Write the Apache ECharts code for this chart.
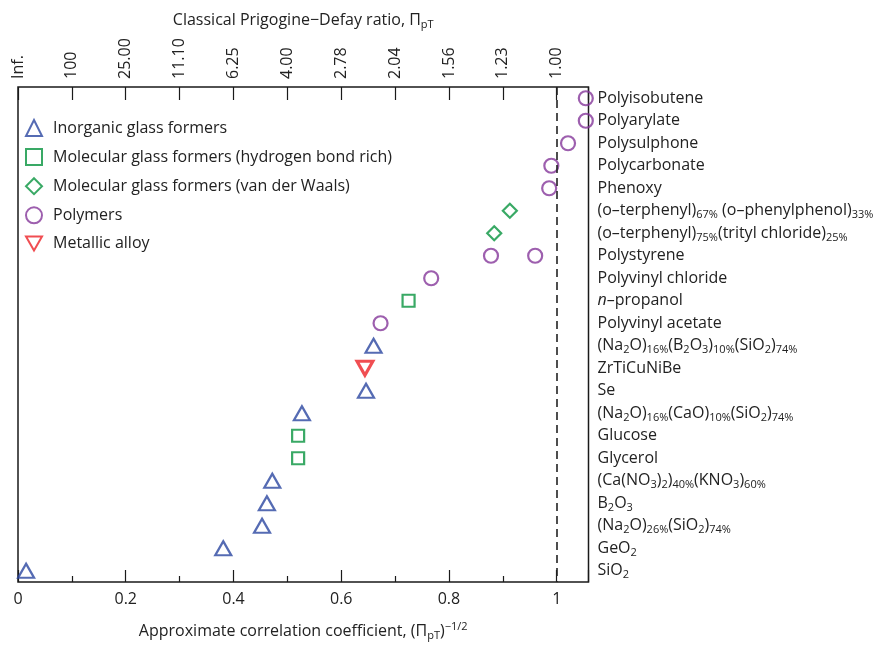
<!DOCTYPE html>
<html><head><meta charset="utf-8">
<script src="https://cdn.jsdelivr.net/npm/echarts@6/dist/echarts.min.js"></script>
<style>html,body{margin:0;padding:0;background:#fff}#c{width:895px;height:646px}</style>
</head><body><div id="c"></div>
<script>
const categories = [
  'Polyisobutene',
  'Polyarylate',
  'Polysulphone',
  'Polycarbonate',
  'Phenoxy',
  '(o–terphenyl){s|67%} (o–phenylphenol){s|33%}',
  '(o–terphenyl){s|75%}(trityl chloride){s|25%}',
  'Polystyrene',
  'Polyvinyl chloride',
  '{i|n}–propanol',
  'Polyvinyl acetate',
  '(Na{s|2}O){s|16%}(B{s|2}O{s|3}){s|10%}(SiO{s|2}){s|74%}',
  'ZrTiCuNiBe',
  'Se',
  '(Na{s|2}O){s|16%}(CaO){s|10%}(SiO{s|2}){s|74%}',
  'Glucose',
  'Glycerol',
  '(Ca(NO{s|3}){s|2}){s|40%}(KNO{s|3}){s|60%}',
  'B{s|2}O{s|3}',
  '(Na{s|2}O){s|26%}(SiO{s|2}){s|74%}',
  'GeO{s|2}',
  'SiO{s|2}'
];
const topTickLabels = ['Inf.', '100', '25.00', '11.10', '6.25', '4.00', '2.78', '2.04', '1.56', '1.23', '1.00'];

// [correlation coefficient, category index]
const inorganic = [[0.660, 11], [0.646, 13], [0.527, 14], [0.472, 17], [0.462, 18], [0.453, 19], [0.381, 20], [0.015, 21]];
const molecularHB = [[0.725, 9], [0.520, 15], [0.520, 16]];
const molecularVdW = [[0.913, 5], [0.884, 6]];
const polymers = [[1.054, 0], [1.054, 1], [1.021, 2], [0.990, 3], [0.986, 4], [0.878, 7], [0.960, 7], [0.767, 8], [0.673, 10]];
const metallic = [[0.644, 12]];

const FONT = 'Open Sans';
const FS = 16;
const subRich = {
  s: { fontSize: 11, lineHeight: 11, verticalAlign: 'bottom', fontFamily: FONT, color: '#222' },
  i: { fontStyle: 'italic', fontSize: FS, fontFamily: FONT, color: '#222' }
};

const BLUE = '#2a46a0', GREEN = '#07933f', PURPLE = '#85379a', RED = '#ec2227';

const chart = echarts.init(document.getElementById('c'), null, { renderer: 'canvas' });
const mkSeries = (name, data, symbol, size, color, extra) => Object.assign({
  name, type: 'scatter', data, symbol, symbolSize: size,
  xAxisIndex: 0, yAxisIndex: 0,
  itemStyle: { color: 'rgba(255,255,255,0)', borderColor: color, borderWidth: 2.2 },
  emphasis: { disabled: true }
}, extra || {});

chart.setOption({
  animation: false,
  backgroundColor: '#fff',
  textStyle: { fontFamily: FONT },
  grid: { left: 18, right: 306.5, top: 87, bottom: 56.5, show: true, borderColor: '#1a1a1a', borderWidth: 1.5, backgroundColor: 'rgba(0,0,0,0)' },
  legend: {
    orient: 'vertical', left: 20, top: 114, itemWidth: 16, itemHeight: 16, itemGap: 11.1,
    textStyle: { fontSize: FS, color: '#222', fontFamily: FONT, padding: [0, 0, 0, 6] },
    data: [
      'Inorganic glass formers',
      'Molecular glass formers (hydrogen bond rich)',
      'Molecular glass formers (van der Waals)',
      'Polymers',
      { name: 'Metallic alloy', icon: 'path://M0,0 L16,0 L8,14 Z' }
    ]
  },
  xAxis: [
    {
      type: 'value', position: 'bottom', min: 0, max: 1.059, interval: 0.2,
      axisLine: { show: false },
      axisTick: { show: true, inside: true, length: 12, lineStyle: { color: '#1a1a1a', width: 1.2 } },
      minorTick: { show: true, splitNumber: 2, length: 6, lineStyle: { color: '#1a1a1a', width: 1.2 } },
      splitLine: { show: false },
      axisLabel: { margin: 9, fontSize: FS, color: '#222', fontFamily: FONT, showMaxLabel: true,
        formatter: v => v > 1.001 ? '' : String(Math.round(v * 10) / 10) },
      name: 'Approximate correlation coefficient, (Π{s|pT}){p|−1/2}',
      nameLocation: 'middle', nameGap: 39,
      nameTextStyle: { fontSize: FS, color: '#222', fontFamily: FONT, lineHeight: 20,
        rich: Object.assign({ p: { fontSize: 11, lineHeight: 11, verticalAlign: 'top', fontFamily: FONT, color: '#222' } }, subRich) }
    },
    {
      type: 'value', position: 'top', min: 0, max: 1.059, interval: 0.1,
      axisLine: { show: false },
      axisTick: { show: true, inside: true, length: 13, lineStyle: { color: '#1a1a1a', width: 1.2 } },
      splitLine: { show: false },
      axisLabel: { margin: 8, fontSize: FS, color: '#222', fontFamily: FONT, rotate: -90, showMaxLabel: true,
        formatter: v => { const k = Math.round(v * 10); return (Math.abs(v * 10 - k) < 1e-6 && k < topTickLabels.length) ? topTickLabels[k] : ''; } },
      name: 'Classical Prigogine−Defay ratio, Π{s|pT}',
      nameLocation: 'middle', nameGap: 56,
      nameTextStyle: { fontSize: FS, color: '#222', fontFamily: FONT, lineHeight: 20, rich: subRich }
    }
  ],
  yAxis: [{
    type: 'category', inverse: true, position: 'right', data: categories,
    axisLine: { show: false }, axisTick: { show: false }, splitLine: { show: false },
    axisLabel: { margin: 9, fontSize: FS, color: '#222', fontFamily: FONT, lineHeight: 20, align: 'left', rich: subRich, interval: 0 }
  }],
  series: [
    mkSeries('Inorganic glass formers', inorganic, 'triangle', [16, 14], BLUE),
    mkSeries('Molecular glass formers (hydrogen bond rich)', molecularHB, 'rect', 12, GREEN),
    mkSeries('Molecular glass formers (van der Waals)', molecularVdW, 'diamond', [14, 14], GREEN),
    mkSeries('Polymers', polymers, 'circle', 14, PURPLE, {
      markLine: {
        silent: true, symbol: ['none', 'none'], label: { show: false },
        lineStyle: { type: [8, 5], color: '#222', width: 1.6 },
        data: [{ xAxis: 1 }]
      }
    }),
    mkSeries('Metallic alloy', metallic, 'triangle', [16, 14], RED, { symbolRotate: 180, itemStyle: { color: 'rgba(255,255,255,0)', borderColor: RED, borderWidth: 3 } })
  ]
});
</script>
</body></html>
